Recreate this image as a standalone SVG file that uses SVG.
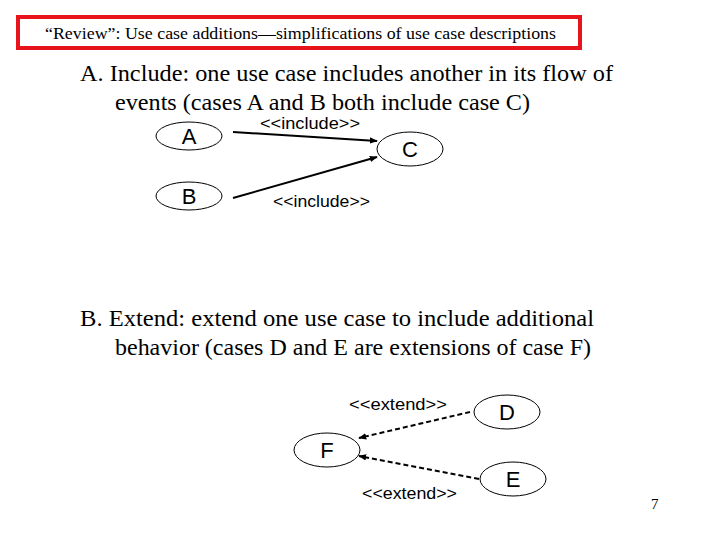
<svg xmlns="http://www.w3.org/2000/svg" width="720" height="540" viewBox="0 0 720 540">
<style>
.t{font-family:"Liberation Serif","Times New Roman",serif;fill:#000}
.h{font-size:24px}
.s{font-family:"Liberation Sans",Arial,sans-serif;fill:#000}
.n{font-size:22px;text-anchor:middle}
.l{font-size:16px}
.uc{fill:#fff;stroke:#000;stroke-width:1}
.c{stroke:#000;stroke-width:2;fill:none}
.d{stroke-dasharray:5,3}
</style>
<defs>
<marker id="ah2" viewBox="0 0 10 10" refX="9" refY="5" markerWidth="8" markerHeight="8" orient="auto" markerUnits="userSpaceOnUse">
<path d="M0,1 L10,5 L0,9 z" fill="#000"/>
</marker>
</defs>
<rect width="720" height="540" fill="#fff"/>
<g id="title">
<rect x="18" y="17" width="562" height="31" fill="#fff" stroke="#e8141c" stroke-width="4"/>
<text class="t" x="45" y="39" font-size="17.5" textLength="511" lengthAdjust="spacingAndGlyphs">“Review”: Use case additions—simplifications of use case descriptions</text>
</g>
<g id="textA">
<text class="t h" x="80" y="81" textLength="533" lengthAdjust="spacingAndGlyphs">A. Include:  one use case includes another in its flow of</text>
<text class="t h" x="115" y="110" textLength="415" lengthAdjust="spacingAndGlyphs">events (cases A and B both include case C)</text>
</g>
<g id="textB">
<text class="t h" x="80" y="326" textLength="514" lengthAdjust="spacingAndGlyphs">B.  Extend:  extend one use case to include additional</text>
<text class="t h" x="115" y="355" textLength="476" lengthAdjust="spacingAndGlyphs">behavior (cases D and E are extensions of case F)</text>
</g>
<g id="connectors">
<line class="c" x1="233" y1="132" x2="377" y2="141" marker-end="url(#ah2)"/>
<line class="c" x1="233" y1="198" x2="377" y2="157" marker-end="url(#ah2)"/>
<line class="c d" x1="470" y1="412" x2="359" y2="438" marker-end="url(#ah2)"/>
<line class="c d" x1="479" y1="479" x2="359" y2="456" marker-end="url(#ah2)"/>
<text class="s l" x="260" y="129" textLength="100" lengthAdjust="spacingAndGlyphs">&lt;&lt;include&gt;&gt;</text>
<text class="s l" x="273" y="207" textLength="97" lengthAdjust="spacingAndGlyphs">&lt;&lt;include&gt;&gt;</text>
<text class="s l" x="349" y="410" textLength="98" lengthAdjust="spacingAndGlyphs">&lt;&lt;extend&gt;&gt;</text>
<text class="s l" x="362" y="499" textLength="95" lengthAdjust="spacingAndGlyphs">&lt;&lt;extend&gt;&gt;</text>
</g>
<g id="A"><ellipse class="uc" cx="189" cy="136" rx="33" ry="14"/><text class="s n" x="189" y="144">A</text></g>
<g id="B"><ellipse class="uc" cx="189" cy="196" rx="33" ry="14"/><text class="s n" x="189" y="204">B</text></g>
<g id="C"><ellipse class="uc" cx="410" cy="149" rx="33" ry="17"/><text class="s n" x="410" y="157">C</text></g>
<g id="D"><ellipse class="uc" cx="507" cy="412" rx="33" ry="17"/><text class="s n" x="507" y="420">D</text></g>
<g id="F"><ellipse class="uc" cx="327" cy="450" rx="33" ry="17"/><text class="s n" x="327" y="458">F</text></g>
<g id="E"><ellipse class="uc" cx="513" cy="479" rx="33" ry="17"/><text class="s n" x="513" y="487">E</text></g>
<g id="page"><text class="t" x="651" y="509" font-size="15">7</text></g>
</svg>
